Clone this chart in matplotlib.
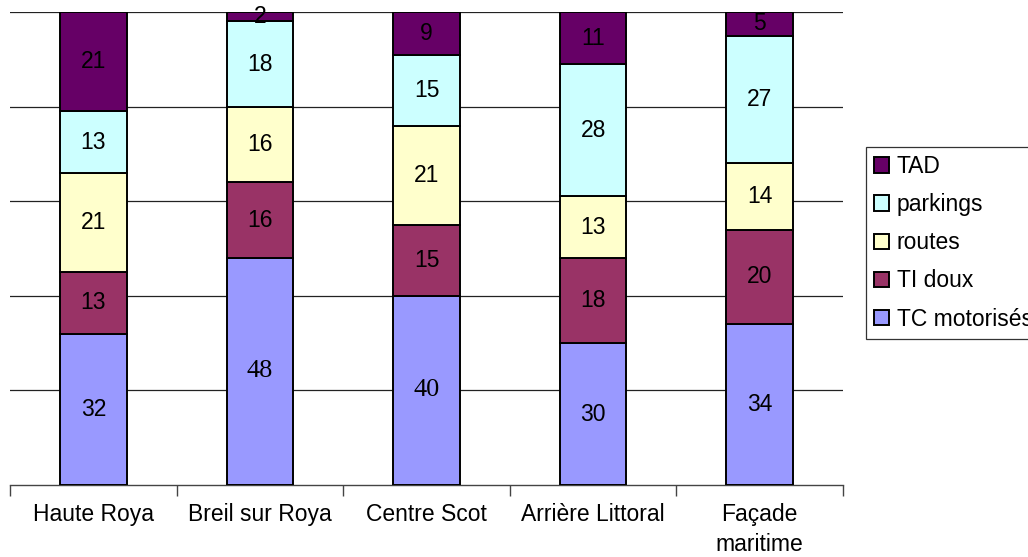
import matplotlib
matplotlib.use("Agg")
import matplotlib.pyplot as plt
import numpy as np

plt.rcParams['font.family'] = ['Liberation Sans', 'DejaVu Sans']

categories = ['Haute Roya', 'Breil sur Roya', 'Centre Scot', 'Arrière Littoral', 'Façade\nmaritime']
series_names = ['TC motorisés', 'TI doux', 'routes', 'parkings', 'TAD']
tc_motorises = [32, 48, 40, 30, 34]
ti_doux = [13, 16, 15, 18, 20]
routes = [21, 16, 21, 13, 14]
parkings = [13, 18, 15, 28, 27]
tad = [21, 2, 9, 11, 5]
colors = ['#9999FF', '#993366', '#FFFFCC', '#CCFFFF', '#660066']
# two labels in the original are drawn in a serif face
serif_labels = {(0, 1), (0, 2)}

series = [tc_motorises, ti_doux, routes, parkings, tad]

fig = plt.figure(figsize=(10.28, 5.57), dpi=100)
ax = fig.add_axes([10 / 1028, 72 / 557, 833 / 1028, 473 / 557])

x = np.arange(len(categories))
bottom = np.zeros(len(categories))
handles = []
for i, (vals, col, name) in enumerate(zip(series, colors, series_names)):
    bars = ax.bar(x, vals, width=0.4, bottom=bottom, color=col,
                  edgecolor='black', linewidth=1.4, label=name, zorder=3)
    handles.append(bars)
    for j, v in enumerate(vals):
        if (i, j) in serif_labels:
            ax.text(x[j], bottom[j] + v / 2, str(v), ha='center', va='center',
                    fontsize=19, family=['Liberation Serif', 'DejaVu Serif'], zorder=4)
        else:
            ax.text(x[j], bottom[j] + v / 2, str(v), ha='center', va='center',
                    fontsize=16.5, zorder=4)
    bottom += np.array(vals)

ax.set_xlim(-0.5, len(categories) - 0.5)
ax.set_ylim(0, 100)
ax.set_yticks([20, 40, 60, 80, 100])
ax.yaxis.grid(True, color='#222222', linewidth=0.9, zorder=0)
ax.tick_params(axis='y', left=False, labelleft=False)

ax.set_xticks(x)
ax.set_xticklabels(categories, fontsize=16.5, linespacing=1.38)
ax.tick_params(axis='x', length=0, pad=13)
ax.set_xticks(np.arange(-0.5, len(categories)), minor=True)
ax.tick_params(axis='x', which='minor', length=8, color='#444444', width=1)

for s in ['left', 'right', 'top']:
    ax.spines[s].set_visible(False)
ax.spines['bottom'].set_color('#444444')
ax.spines['bottom'].set_linewidth(1)

leg = fig.legend(handles[::-1], series_names[::-1], loc='upper left',
                 bbox_to_anchor=(866 / 1028, 1 - 147 / 557), fontsize=16.5,
                 frameon=True, fancybox=False, edgecolor='black',
                 handlelength=0.65, handleheight=0.65, handletextpad=0.35,
                 labelspacing=0.66, borderpad=0.35, borderaxespad=0)
leg.get_frame().set_linewidth(0.9)

fig.savefig('out.png', dpi=100)
